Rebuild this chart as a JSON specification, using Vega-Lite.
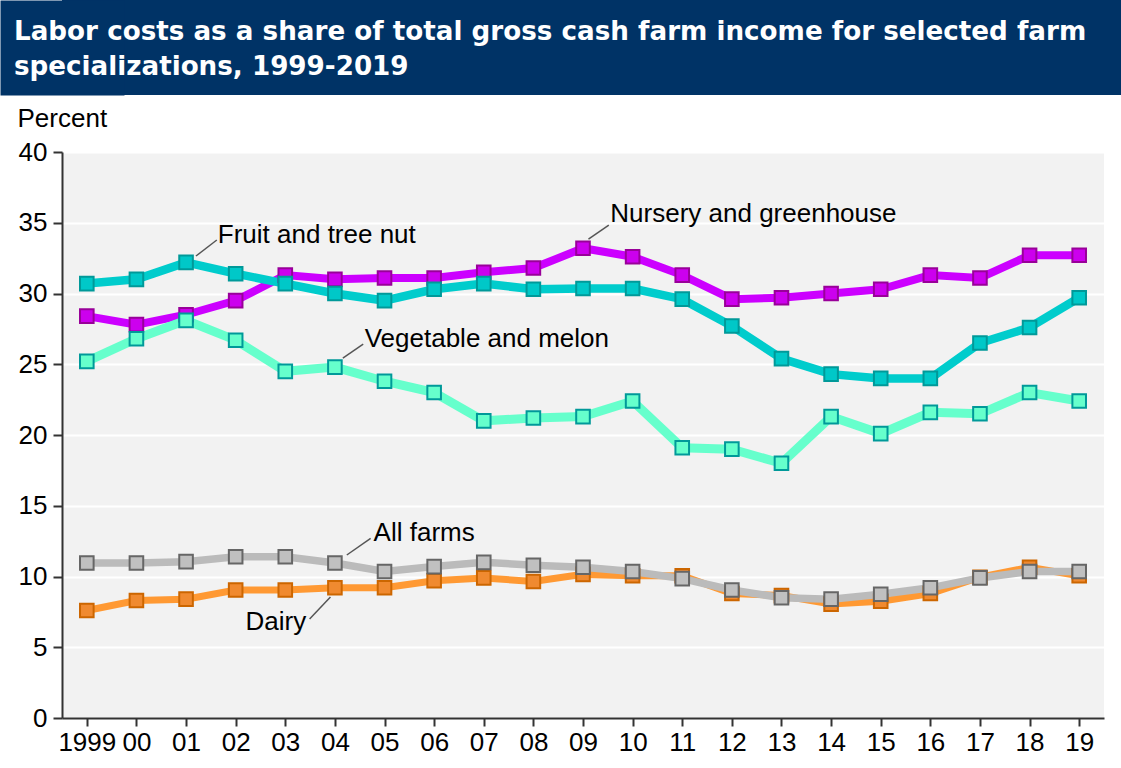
{
  "$schema": "https://vega.github.io/schema/vega-lite/v6.json",
  "background": "white",
  "padding": {"left": 0, "top": 0, "right": 0, "bottom": 8},
  "spacing": 10,
  "columns": 1,
  "bounds": "full",
  "config": {"font": "Liberation Sans", "view": {"stroke": null}},
  "datasets": {
    "series": [
      {"year": 1999, "series": "Dairy", "value": 7.6},
      {"year": 2000, "series": "Dairy", "value": 8.3},
      {"year": 2001, "series": "Dairy", "value": 8.4},
      {"year": 2002, "series": "Dairy", "value": 9.05},
      {"year": 2003, "series": "Dairy", "value": 9.05},
      {"year": 2004, "series": "Dairy", "value": 9.2},
      {"year": 2005, "series": "Dairy", "value": 9.2},
      {"year": 2006, "series": "Dairy", "value": 9.7},
      {"year": 2007, "series": "Dairy", "value": 9.9},
      {"year": 2008, "series": "Dairy", "value": 9.65},
      {"year": 2009, "series": "Dairy", "value": 10.15},
      {"year": 2010, "series": "Dairy", "value": 10.05},
      {"year": 2011, "series": "Dairy", "value": 10.05},
      {"year": 2012, "series": "Dairy", "value": 8.8},
      {"year": 2013, "series": "Dairy", "value": 8.65},
      {"year": 2014, "series": "Dairy", "value": 8.05},
      {"year": 2015, "series": "Dairy", "value": 8.25},
      {"year": 2016, "series": "Dairy", "value": 8.8},
      {"year": 2017, "series": "Dairy", "value": 9.95},
      {"year": 2018, "series": "Dairy", "value": 10.65},
      {"year": 2019, "series": "Dairy", "value": 10.05},
      {"year": 1999, "series": "All farms", "value": 10.95},
      {"year": 2000, "series": "All farms", "value": 10.95},
      {"year": 2001, "series": "All farms", "value": 11.05},
      {"year": 2002, "series": "All farms", "value": 11.4},
      {"year": 2003, "series": "All farms", "value": 11.4},
      {"year": 2004, "series": "All farms", "value": 10.95},
      {"year": 2005, "series": "All farms", "value": 10.35},
      {"year": 2006, "series": "All farms", "value": 10.7},
      {"year": 2007, "series": "All farms", "value": 11.0},
      {"year": 2008, "series": "All farms", "value": 10.8},
      {"year": 2009, "series": "All farms", "value": 10.65},
      {"year": 2010, "series": "All farms", "value": 10.35},
      {"year": 2011, "series": "All farms", "value": 9.85},
      {"year": 2012, "series": "All farms", "value": 9.05},
      {"year": 2013, "series": "All farms", "value": 8.5},
      {"year": 2014, "series": "All farms", "value": 8.4},
      {"year": 2015, "series": "All farms", "value": 8.75},
      {"year": 2016, "series": "All farms", "value": 9.2},
      {"year": 2017, "series": "All farms", "value": 9.9},
      {"year": 2018, "series": "All farms", "value": 10.35},
      {"year": 2019, "series": "All farms", "value": 10.35},
      {"year": 1999, "series": "Nursery and greenhouse", "value": 28.4},
      {"year": 2000, "series": "Nursery and greenhouse", "value": 27.8},
      {"year": 2001, "series": "Nursery and greenhouse", "value": 28.5},
      {"year": 2002, "series": "Nursery and greenhouse", "value": 29.5},
      {"year": 2003, "series": "Nursery and greenhouse", "value": 31.3},
      {"year": 2004, "series": "Nursery and greenhouse", "value": 31.0},
      {"year": 2005, "series": "Nursery and greenhouse", "value": 31.1},
      {"year": 2006, "series": "Nursery and greenhouse", "value": 31.1},
      {"year": 2007, "series": "Nursery and greenhouse", "value": 31.5},
      {"year": 2008, "series": "Nursery and greenhouse", "value": 31.8},
      {"year": 2009, "series": "Nursery and greenhouse", "value": 33.2},
      {"year": 2010, "series": "Nursery and greenhouse", "value": 32.6},
      {"year": 2011, "series": "Nursery and greenhouse", "value": 31.3},
      {"year": 2012, "series": "Nursery and greenhouse", "value": 29.6},
      {"year": 2013, "series": "Nursery and greenhouse", "value": 29.7},
      {"year": 2014, "series": "Nursery and greenhouse", "value": 30.0},
      {"year": 2015, "series": "Nursery and greenhouse", "value": 30.3},
      {"year": 2016, "series": "Nursery and greenhouse", "value": 31.3},
      {"year": 2017, "series": "Nursery and greenhouse", "value": 31.1},
      {"year": 2018, "series": "Nursery and greenhouse", "value": 32.7},
      {"year": 2019, "series": "Nursery and greenhouse", "value": 32.7},
      {"year": 1999, "series": "Fruit and tree nut", "value": 30.7},
      {"year": 2000, "series": "Fruit and tree nut", "value": 31.0},
      {"year": 2001, "series": "Fruit and tree nut", "value": 32.2},
      {"year": 2002, "series": "Fruit and tree nut", "value": 31.4},
      {"year": 2003, "series": "Fruit and tree nut", "value": 30.7},
      {"year": 2004, "series": "Fruit and tree nut", "value": 30.0},
      {"year": 2005, "series": "Fruit and tree nut", "value": 29.5},
      {"year": 2006, "series": "Fruit and tree nut", "value": 30.3},
      {"year": 2007, "series": "Fruit and tree nut", "value": 30.7},
      {"year": 2008, "series": "Fruit and tree nut", "value": 30.3},
      {"year": 2009, "series": "Fruit and tree nut", "value": 30.35},
      {"year": 2010, "series": "Fruit and tree nut", "value": 30.35},
      {"year": 2011, "series": "Fruit and tree nut", "value": 29.6},
      {"year": 2012, "series": "Fruit and tree nut", "value": 27.7},
      {"year": 2013, "series": "Fruit and tree nut", "value": 25.4},
      {"year": 2014, "series": "Fruit and tree nut", "value": 24.3},
      {"year": 2015, "series": "Fruit and tree nut", "value": 24.0},
      {"year": 2016, "series": "Fruit and tree nut", "value": 24.0},
      {"year": 2017, "series": "Fruit and tree nut", "value": 26.5},
      {"year": 2018, "series": "Fruit and tree nut", "value": 27.6},
      {"year": 2019, "series": "Fruit and tree nut", "value": 29.7},
      {"year": 1999, "series": "Vegetable and melon", "value": 25.2},
      {"year": 2000, "series": "Vegetable and melon", "value": 26.8},
      {"year": 2001, "series": "Vegetable and melon", "value": 28.1},
      {"year": 2002, "series": "Vegetable and melon", "value": 26.7},
      {"year": 2003, "series": "Vegetable and melon", "value": 24.5},
      {"year": 2004, "series": "Vegetable and melon", "value": 24.8},
      {"year": 2005, "series": "Vegetable and melon", "value": 23.8},
      {"year": 2006, "series": "Vegetable and melon", "value": 23.0},
      {"year": 2007, "series": "Vegetable and melon", "value": 21.0},
      {"year": 2008, "series": "Vegetable and melon", "value": 21.2},
      {"year": 2009, "series": "Vegetable and melon", "value": 21.3},
      {"year": 2010, "series": "Vegetable and melon", "value": 22.4},
      {"year": 2011, "series": "Vegetable and melon", "value": 19.1},
      {"year": 2012, "series": "Vegetable and melon", "value": 19.0},
      {"year": 2013, "series": "Vegetable and melon", "value": 18.0},
      {"year": 2014, "series": "Vegetable and melon", "value": 21.3},
      {"year": 2015, "series": "Vegetable and melon", "value": 20.1},
      {"year": 2016, "series": "Vegetable and melon", "value": 21.6},
      {"year": 2017, "series": "Vegetable and melon", "value": 21.5},
      {"year": 2018, "series": "Vegetable and melon", "value": 23.0},
      {"year": 2019, "series": "Vegetable and melon", "value": 22.4}
    ],
    "notes": [
      {"label": "Fruit and tree nut", "lx": 2001.64, "ly": 33.57, "x1": 2001.2, "y1": 32.65, "x2": 2001.62, "y2": 33.78},
      {"label": "Vegetable and melon", "lx": 2004.6, "ly": 26.22, "x1": 2004.16, "y1": 25.44, "x2": 2004.57, "y2": 26.43},
      {"label": "Nursery and greenhouse", "lx": 2009.55, "ly": 35.07, "x1": 2009.11, "y1": 33.85, "x2": 2009.52, "y2": 34.84},
      {"label": "All farms", "lx": 2004.78, "ly": 12.51, "x1": 2004.24, "y1": 11.52, "x2": 2004.72, "y2": 12.69},
      {"label": "Dairy", "lx": 2002.2, "ly": 6.22, "x1": 2003.49, "y1": 7.0, "x2": 2003.91, "y2": 8.55}
    ]
  },
  "concat": [
    {
      "width": 1059,
      "height": 95,
      "view": {"fill": "#003366", "stroke": null},
      "data": {"values": [{"v": 0}]},
      "mark": {"type": "point", "opacity": 0},
      "encoding": {
        "y": {
          "field": "v",
          "type": "quantitative",
          "axis": {
            "title": null,
            "labels": false,
            "ticks": false,
            "grid": false,
            "domainColor": "#003366",
            "domainWidth": 124,
            "domainCap": "butt"
          }
        }
      },
      "title": {
        "text": ["Labor costs as a share of total gross cash farm income for selected farm", "specializations, 1999-2019"],
        "anchor": "start",
        "frame": "group",
        "orient": "bottom",
        "baseline": "top",
        "offset": -76,
        "dx": -48,
        "font": "DejaVu Sans",
        "fontWeight": "bold",
        "fontSize": 26.2,
        "lineHeight": 35,
        "color": "white"
      }
    },
    {
      "width": 1042,
      "height": 566,
      "view": {"fill": "#f2f2f2", "stroke": null},
      "layer": [
        {
          "data": {"name": "series"},
          "mark": {"type": "line"},
          "encoding": {
            "x": {
              "field": "year",
              "type": "quantitative",
              "scale": {"domain": [1998.5, 2019.5], "nice": false, "zero": false},
              "axis": {
                "title": null,
                "values": [1999, 2000, 2001, 2002, 2003, 2004, 2005, 2006, 2007, 2008, 2009, 2010, 2011, 2012, 2013, 2014, 2015, 2016, 2017, 2018, 2019],
                "labelExpr": "datum.value == 1999 ? '1999' : (datum.value < 2010 ? '0' + (datum.value - 2000) : '' + (datum.value - 2000))",
                "grid": false,
                "domainColor": "#333333",
                "domainWidth": 2,
                "tickColor": "#333333",
                "tickWidth": 2,
                "tickSize": 8,
                "labelFontSize": 26,
                "labelColor": "black",
                "labelPadding": 3,
                "labelFlush": false,
                "labelOverlap": false
              }
            },
            "y": {
              "field": "value",
              "type": "quantitative",
              "scale": {"domain": [0, 40], "nice": false},
              "axis": {
                "title": "Percent",
                "titleAngle": 0,
                "titleAlign": "left",
                "titleBaseline": "alphabetic",
                "titleX": -45,
                "titleY": -26,
                "titleFontSize": 26,
                "titleFontWeight": "normal",
                "titleColor": "black",
                "values": [0, 5, 10, 15, 20, 25, 30, 35, 40],
                "gridColor": "white",
                "gridWidth": 2,
                "domainColor": "#333333",
                "domainWidth": 2,
                "tickColor": "#333333",
                "tickWidth": 2,
                "tickSize": 9,
                "labelFontSize": 26,
                "labelColor": "black",
                "labelPadding": 6,
                "minExtent": 62,
                "maxExtent": 62
              }
            },
            "color": {
              "field": "series",
              "type": "nominal",
              "scale": {
                "domain": ["Dairy", "All farms", "Nursery and greenhouse", "Fruit and tree nut", "Vegetable and melon"],
                "range": ["#ff9933", "#bbbbbb", "#cc00ff", "#00cccc", "#66ffcc"]
              },
              "legend": null
            },
            "strokeWidth": {
              "field": "series",
              "type": "nominal",
              "scale": {
                "domain": ["Dairy", "All farms", "Nursery and greenhouse", "Fruit and tree nut", "Vegetable and melon"],
                "range": [7, 9, 7, 7, 6]
              },
              "legend": null
            }
          }
        },
        {
          "data": {"name": "series"},
          "mark": {"type": "point", "shape": "square", "size": 185, "filled": true, "opacity": 1, "strokeWidth": 2},
          "encoding": {
            "x": {"field": "year", "type": "quantitative"},
            "y": {"field": "value", "type": "quantitative"},
            "fill": {
              "field": "series",
              "type": "nominal",
              "scale": {
                "domain": ["Dairy", "All farms", "Nursery and greenhouse", "Fruit and tree nut", "Vegetable and melon"],
                "range": ["#f08a30", "#c0c0c0", "#cc00ee", "#00c8c8", "#66ffcc"]
              },
              "legend": null
            },
            "stroke": {
              "field": "series",
              "type": "nominal",
              "scale": {
                "domain": ["Dairy", "All farms", "Nursery and greenhouse", "Fruit and tree nut", "Vegetable and melon"],
                "range": ["#cc6600", "#666666", "#990099", "#009999", "#009999"]
              },
              "legend": null
            }
          }
        },
        {
          "data": {"name": "notes"},
          "mark": {"type": "rule", "color": "#555555", "strokeWidth": 1.5},
          "encoding": {
            "x": {"field": "x1", "type": "quantitative"},
            "y": {"field": "y1", "type": "quantitative"},
            "x2": {"field": "x2"},
            "y2": {"field": "y2"}
          }
        },
        {
          "data": {"name": "notes"},
          "mark": {"type": "text", "align": "left", "baseline": "alphabetic", "fontSize": 26, "color": "black"},
          "encoding": {
            "x": {"field": "lx", "type": "quantitative"},
            "y": {"field": "ly", "type": "quantitative"},
            "text": {"field": "label"}
          }
        }
      ]
    }
  ]
}
